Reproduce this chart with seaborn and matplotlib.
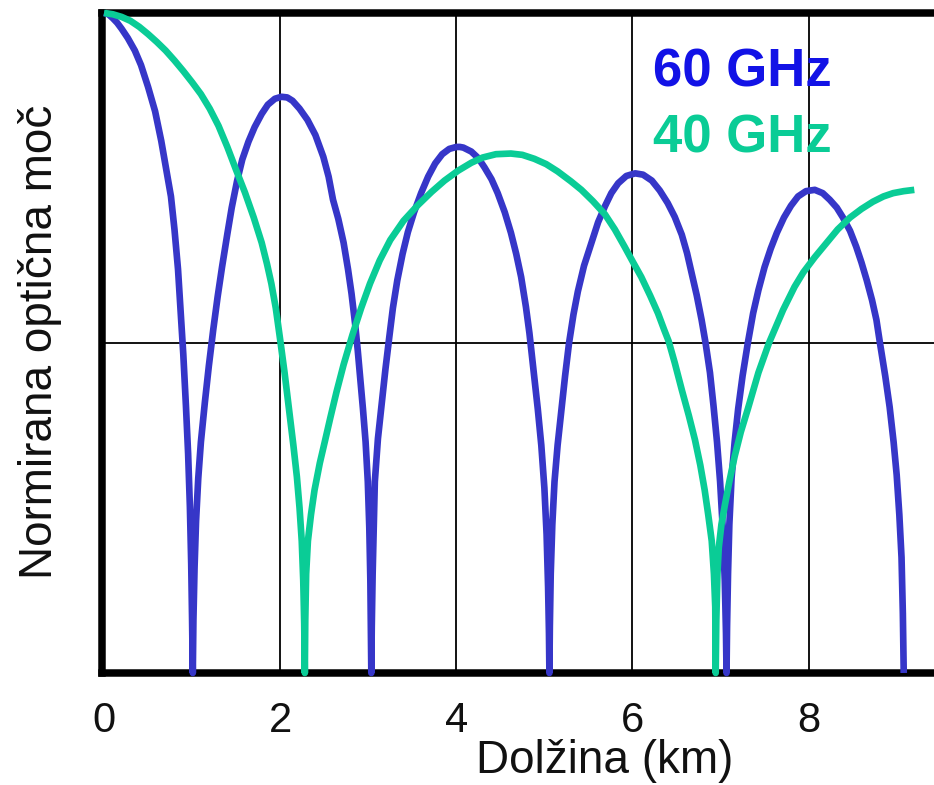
import matplotlib

matplotlib.use("Agg")

import pandas as pd
import seaborn as sns
from matplotlib import pyplot as plt

# values (km, normalised power)
x_60ghz = [
    # first lobe, 0 -> 1 km
    0.00, 0.05, 0.10, 0.15, 0.20, 0.27, 0.35, 0.42, 0.50, 0.58, 0.65, 0.71, 0.76, 0.80,
    0.84, 0.87, 0.90, 0.93, 0.955, 0.975, 0.99, 1.000, 1.008,
    # 1 -> 3 km
    1.015, 1.028, 1.045, 1.07, 1.10, 1.145, 1.19, 1.24, 1.29, 1.34, 1.40, 1.45, 1.51, 1.57,
    1.64, 1.71, 1.79, 1.86, 1.94, 2.015, 2.08, 2.14, 2.22, 2.31, 2.40, 2.49, 2.55, 2.60,
    2.66, 2.72, 2.77, 2.81, 2.85, 2.88, 2.91, 2.94, 2.97, 2.995, 3.012, 3.024, 3.031, 3.035,
    # 3 -> 5 km
    3.040, 3.050, 3.065, 3.075, 3.11, 3.15, 3.195, 3.24, 3.28, 3.33, 3.39, 3.45, 3.52, 3.60,
    3.68, 3.76, 3.84, 3.92, 4.00, 4.04, 4.08, 4.17, 4.25, 4.32, 4.40, 4.47, 4.55, 4.62,
    4.68, 4.736, 4.79, 4.83, 4.875, 4.925, 4.965, 5.00, 5.025, 5.042, 5.052, 5.057,
    # 5 -> 7 km
    5.062, 5.072, 5.09, 5.115, 5.15, 5.19, 5.235, 5.28, 5.33, 5.38, 5.45, 5.535, 5.61, 5.687,
    5.76, 5.838, 5.93, 6.03, 6.12, 6.22, 6.31, 6.40, 6.48, 6.56, 6.62, 6.67, 6.73, 6.785,
    6.83, 6.88, 6.92, 6.96, 6.995, 7.025, 7.048, 7.062, 7.068,
    # 7 -> 9 km
    7.074, 7.085, 7.10, 7.125, 7.16, 7.20, 7.25, 7.31, 7.37, 7.43, 7.50, 7.57, 7.64, 7.72,
    7.80, 7.88, 7.97, 8.07, 8.16, 8.24, 8.32, 8.39, 8.47, 8.54, 8.60, 8.66, 8.72, 8.77,
    8.81, 8.87, 8.92, 8.965, 9.00, 9.03, 9.055, 9.07, 9.08,
]
y_60ghz = [
    1.000, 0.998, 0.992, 0.985, 0.976, 0.962, 0.943, 0.921, 0.888, 0.851, 0.806, 0.760, 0.722, 0.672,
    0.612, 0.547, 0.483, 0.405, 0.332, 0.252, 0.165, 0.080, 0.000,
    0.080, 0.160, 0.230, 0.295, 0.350, 0.410, 0.465, 0.520, 0.570, 0.615, 0.665, 0.705, 0.745, 0.778,
    0.805, 0.827, 0.847, 0.861, 0.870, 0.873, 0.872, 0.867, 0.855, 0.838, 0.815, 0.782, 0.752, 0.717,
    0.688, 0.652, 0.612, 0.575, 0.530, 0.490, 0.445, 0.400, 0.350, 0.290, 0.220, 0.140, 0.060, 0.000,
    0.070, 0.150, 0.230, 0.290, 0.355, 0.405, 0.460, 0.510, 0.553, 0.595, 0.635, 0.668, 0.698, 0.727,
    0.752, 0.772, 0.786, 0.794, 0.797, 0.797, 0.796, 0.790, 0.780, 0.766, 0.748, 0.727, 0.698, 0.667,
    0.635, 0.600, 0.555, 0.515, 0.460, 0.400, 0.345, 0.280, 0.210, 0.130, 0.060, 0.000,
    0.070, 0.150, 0.225, 0.290, 0.345, 0.395, 0.450, 0.500, 0.543, 0.578, 0.617, 0.652, 0.683, 0.707,
    0.727, 0.742, 0.753, 0.757, 0.755, 0.746, 0.731, 0.712, 0.691, 0.664, 0.636, 0.607, 0.572, 0.535,
    0.500, 0.455, 0.405, 0.350, 0.290, 0.220, 0.140, 0.060, 0.000,
    0.070, 0.150, 0.225, 0.295, 0.350, 0.400, 0.450, 0.500, 0.545, 0.580, 0.615, 0.643, 0.667, 0.690,
    0.708, 0.722, 0.730, 0.732, 0.727, 0.717, 0.705, 0.690, 0.670, 0.646, 0.622, 0.595, 0.565, 0.535,
    0.500, 0.450, 0.403, 0.350, 0.300, 0.240, 0.175, 0.090, 0.000,
]

x_40ghz = [
    # 0 -> 2.3 km
    0.00, 0.10, 0.20, 0.30, 0.40, 0.50, 0.60, 0.70, 0.80, 0.90, 1.00, 1.10, 1.20, 1.30,
    1.40, 1.50, 1.60, 1.70, 1.79, 1.85, 1.90, 1.95, 2.00, 2.05, 2.10, 2.15, 2.19, 2.22,
    2.245, 2.262, 2.273, 2.280,
    # 2.3 -> 6.9 km
    2.285, 2.295, 2.315, 2.35, 2.39, 2.45, 2.506, 2.57, 2.64, 2.72, 2.82, 2.92, 3.02, 3.13,
    3.25, 3.40, 3.565, 3.72, 3.866, 4.02, 4.17, 4.30, 4.45, 4.62, 4.75, 4.886, 5.02, 5.15,
    5.30, 5.42, 5.55, 5.687, 5.80, 5.91, 6.00, 6.10, 6.20, 6.29, 6.36, 6.41, 6.48, 6.56,
    6.64, 6.71, 6.77, 6.82, 6.86, 6.90, 6.925, 6.94, 6.945,
    # 6.9 -> 9.2 km
    6.952, 6.965, 6.98, 7.01, 7.05, 7.10, 7.16, 7.23, 7.31, 7.43, 7.55, 7.71, 7.84, 7.94,
    8.07, 8.20, 8.33, 8.47, 8.60, 8.73, 8.85, 8.96, 9.08, 9.20,
]
y_40ghz = [
    1.000, 0.998, 0.994, 0.988, 0.979, 0.968, 0.956, 0.943, 0.928, 0.912, 0.895, 0.877, 0.855, 0.829,
    0.797, 0.762, 0.728, 0.690, 0.652, 0.620, 0.590, 0.553, 0.505, 0.455, 0.400, 0.345, 0.297, 0.250,
    0.200, 0.140, 0.075, 0.000,
    0.080, 0.150, 0.200, 0.240, 0.277, 0.318, 0.350, 0.387, 0.426, 0.467, 0.512, 0.553, 0.590, 0.625,
    0.656, 0.685, 0.709, 0.729, 0.746, 0.761, 0.773, 0.781, 0.786, 0.787, 0.785, 0.779, 0.771, 0.760,
    0.745, 0.732, 0.715, 0.695, 0.672, 0.646, 0.624, 0.600, 0.572, 0.545, 0.520, 0.503, 0.470, 0.429,
    0.390, 0.353, 0.315, 0.277, 0.240, 0.200, 0.150, 0.100, 0.000,
    0.080, 0.150, 0.190, 0.225, 0.255, 0.290, 0.328, 0.365, 0.400, 0.455, 0.500, 0.550, 0.585, 0.607,
    0.630, 0.651, 0.672, 0.690, 0.703, 0.714, 0.722, 0.727, 0.730, 0.732,
]

x_ticks = [0, 2, 4, 6, 8]
series_labels = ["60 GHz", "40 GHz"]

BLUE_LINE = "#3636c8"
BLUE_TEXT = "#1212e6"
GREEN = "#0acc96"

sns.set_style("white")
plt.rcParams["font.family"] = ["Liberation Sans", "DejaVu Sans"]

fig = plt.figure(figsize=(9.34, 7.85), dpi=100)
# axes runs past the right edge of the picture, as in the reference
ax = fig.add_axes([0.1092, 0.1427, 0.9079, 0.8408])

df_60 = pd.DataFrame({"km": x_60ghz, "power": y_60ghz})
df_40 = pd.DataFrame({"km": x_40ghz, "power": y_40ghz})

sns.lineplot(data=df_60, x="km", y="power", sort=False, estimator=None,
             color=BLUE_LINE, linewidth=4.8, ax=ax)
sns.lineplot(data=df_40, x="km", y="power", sort=False, estimator=None,
             color=GREEN, linewidth=4.8, ax=ax)
for line in ax.lines:
    line.set_clip_on(False)
    line.set_zorder(5)
    line.set_solid_joinstyle("round")
    line.set_solid_capstyle("butt")

ax.set_xlim(-0.023, 9.605)
ax.set_ylim(0, 1.0)
ax.set_xticks(x_ticks)
ax.set_xticklabels([str(t) for t in x_ticks])
ax.set_yticks([0.5])
ax.set_yticklabels([])
ax.tick_params(axis="both", length=0)
ax.tick_params(axis="x", labelsize=30, pad=20, labelcolor="#111111")
ax.grid(True, color="black", linewidth=1.3)
ax.set_axisbelow(True)

for side in ["left", "top", "bottom"]:
    ax.spines[side].set_linewidth(5.4)
    ax.spines[side].set_color("black")
ax.spines["right"].set_visible(False)

ax.set_xlabel("")
ax.set_ylabel("")

ax.text(6.23, 0.888, series_labels[0], color=BLUE_TEXT, fontsize=38,
        fontweight="bold", ha="left", va="baseline", zorder=6)
ax.text(6.23, 0.789, series_labels[1], color=GREEN, fontsize=38,
        fontweight="bold", ha="left", va="baseline", zorder=6)

fig.text(605 / 934, 1 - 773 / 785, "Dolžina (km)", fontsize=33,
         ha="center", va="baseline", color="#111111")
fig.text(40 / 934, 1 - 342 / 785, "Normirana optična moč", fontsize=33,
         rotation=90, ha="center", va="center", color="#111111")

fig.savefig("out.png", dpi=100)
